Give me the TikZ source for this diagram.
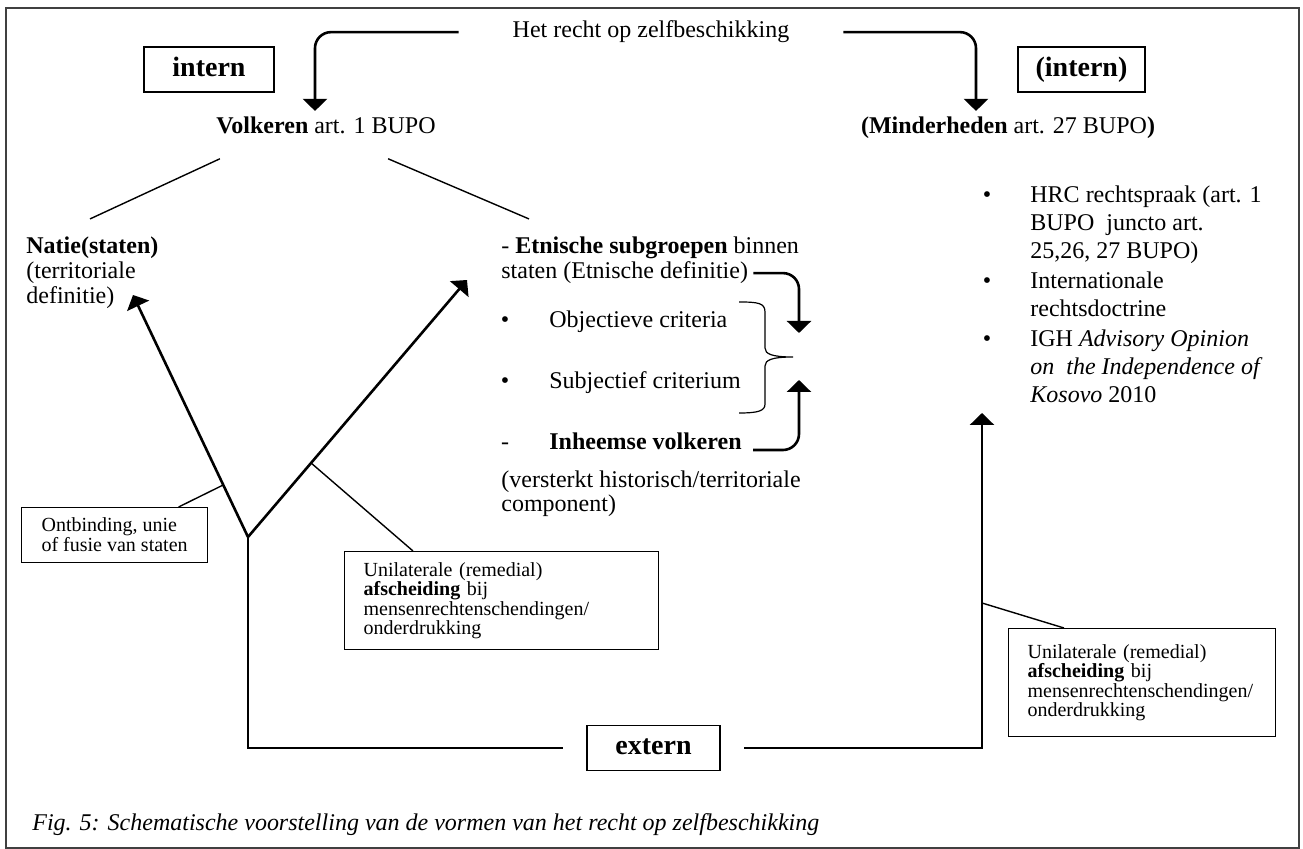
\documentclass[tikz,border=0pt]{standalone}
\usepackage{fontspec}
\setmainfont{Liberation Serif}
\usetikzlibrary{arrows.meta,calc,positioning}
\tikzset{
  tekst/.style={font=\fontsize{12}{14}\selectfont,inner sep=0pt,anchor=base west,align=left},
  punt/.style={font=\fontsize{12}{14}\selectfont,inner sep=0pt,anchor=base},
  kader/.style={draw,line width=0.6pt,font=\fontsize{10}{9.75}\selectfont,align=left,
                anchor=north west,inner xsep=9.5pt},
  knop/.style={draw,line width=0.6pt,font=\fontsize{14}{16}\selectfont\bfseries,
               minimum height=22.5pt,text height=10pt,text depth=3pt},
  dik/.style={line width=1.3pt},
  pijl/.style={dik,-{Triangle[width=12pt,length=6pt]}},
  dun/.style={line width=0.7pt}
}

\begin{document}
\begin{tikzpicture}[x=0.5pt,y=-0.5pt]
\useasboundingbox (0,0) rectangle (1303,849);
\draw[black!75,line width=0.7pt] (6,8) rectangle (1299,848);

% bovenste rij
\node[tekst,anchor=base,outer xsep=27pt] (titel) at (651,38) {Het recht op zelfbeschikking};
\node[knop,minimum width=65pt] (intern) at (209,69.5) {intern};
\node[knop,minimum width=63.5pt] (intern2) at (1081.5,69.5) {(intern)};
\node[tekst,anchor=base] (volk) at (326,134) {\textbf{Volkeren} art. 1 BUPO};
\node[tekst,anchor=base] (minder) at (1008,134) {\textbf{(Minderheden} art. 27 BUPO\textbf{)}};
\draw[pijl,rounded corners=8pt] (titel.west) -| ([xshift=-5.5pt,yshift=3pt]volk.north);
\draw[pijl,rounded corners=8pt] (titel.east) -| ([xshift=-16pt,yshift=3pt]minder.north);

% volkeren (base = laatste regel)
\node[tekst,font=\fontsize{12}{12.5}\selectfont] (natie) at (26,304) {\textbf{Natie(staten)}\\(territoriale\\definitie)};
\node[tekst] (etn) at (501,254) {- \textbf{Etnische subgroepen} binnen};
\node[tekst] (etn2) at (501,279) {staten (Etnische definitie)};
\draw[dun] ($(volk.south west)+(4,24)$) -- ($(natie.north west)+(64,-18)$);
\draw[dun] ($(volk.south east)+(-48,24)$) -- ($(etn.north west)+(28,-18)$);

\foreach \by/\nm/\txt in {328/obj/{Objectieve criteria},389/subj/{Subjectief criterium}}
{
  \node[punt] (p\nm) at (505,\by) {\textbullet};
  \node[tekst] (\nm) at (549,\by) {\txt};
}
\node[punt] (pinh) at (505,450) {-};
\node[tekst] (inh) at (549,450) {\textbf{Inheemse volkeren}};
\node[tekst,font=\fontsize{12}{12}\selectfont] (verst) at (501,512) {(versterkt historisch/territoriale\\component)};

% accolade + pijlen
\coordinate (brtip) at (799,357);
\draw[line width=0.6pt] (739,302) .. controls (758,302) and (765,303) .. (765,312) -- (765,348)
  .. controls (765,354) and (772,357) .. (793,357)
  .. controls (772,357) and (765,360) .. (765,366) -- (765,404)
  .. controls (765,411) and (758,413) .. (739,413);
\draw[pijl,rounded corners=8pt] ([xshift=2.5pt]etn2.east) -| ([yshift=12pt]brtip);
\draw[pijl,rounded corners=8pt] ([xshift=5.5pt]inh.base east) -| ([yshift=-11.5pt]brtip);

% minderheden (base = laatste regel)
\node[tekst] (hrc) at (1030,259) {HRC rechtspraak (art. 1\\BUPO\ \ juncto art.\\25,26, 27 BUPO)};
\node[tekst] (doctr) at (1030,317) {Internationale\\rechtsdoctrine};
\node[tekst] (igh) at (1030,403) {IGH \textit{Advisory Opinion}\\\textit{on\ \ the Independence of}\\\textit{Kosovo} 2010};
\foreach \by/\nm in {203/hrc,289/doctr,347/igh}
  \node[punt] (p\nm) at (987,\by) {\textbullet};

% de Y
\coordinate (junc) at (248,537);
\coordinate (natietip) at (133,295);
\coordinate (etntip) at (467,280);
\draw[pijl] (junc) -- (natietip);
\draw[pijl] (junc) -- (etntip);

\node[kader,font=\fontsize{10}{10}\selectfont,minimum width=93pt,minimum height=27.5pt] (ontb) at (21,507) {Ontbinding, unie\\of fusie van staten};
\node[kader,text width=138pt,minimum height=49pt] (afsch) at (344,551) {Unilaterale (remedial)\\\textbf{afscheiding} bij\\mensenrechtenschendingen/\\onderdrukking};
\node[kader,text width=114.5pt,minimum height=54pt] (afsch2) at (1008,628) {Unilaterale (remedial)\\\textbf{afscheiding} bij\\mensenrechtenschendingen/\\onderdrukking};
\draw[dun] ($(junc)!0.215!(natietip)$) -- ([xshift=32pt]ontb.north);
\draw[dun] ($(junc)!0.288!(etntip)$) -- ([xshift=34.5pt]afsch.north west);

% extern
\node[knop,minimum width=66.5pt,outer xsep=12pt] (extern) at (653.5,748) {extern};
\coordinate (hrctip) at (982,413);
\draw[dik] (junc) |- (extern.west);
\draw[pijl] (extern.east) -| (hrctip);
\draw[dun] ($(hrctip)+(0,190)$) -- ([xshift=28pt]afsch2.north west);

\node[tekst,font=\fontsize{12}{14}\selectfont\itshape] (onderschrift) at (32,831) {Fig. 5: Schematische voorstelling van de vormen van het recht op zelfbeschikking};
\end{tikzpicture}
\end{document}
